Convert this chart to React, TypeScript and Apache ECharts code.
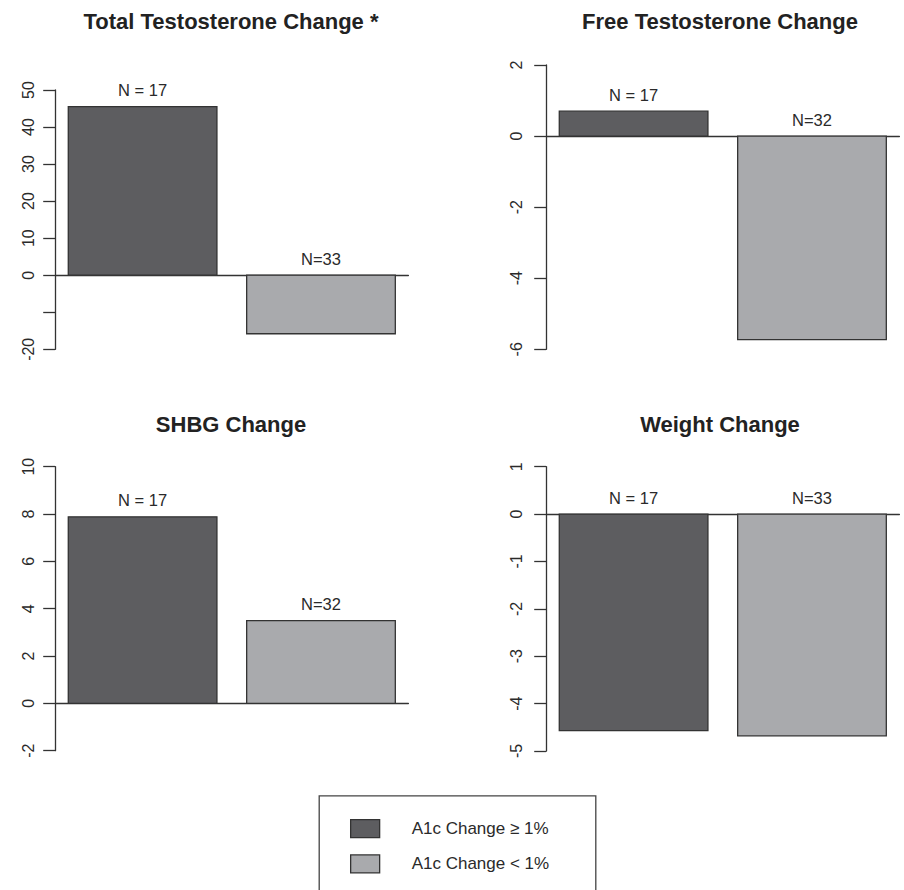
import React, { useEffect, useRef } from "react";
import * as echarts from "echarts";

// Panel titles
const titles = [
  "Total Testosterone Change *",
  "Free Testosterone Change",
  "SHBG Change",
  "Weight Change",
];

// Groups (legend entries)
const groupNames = ["A1c Change \u2265 1%", "A1c Change < 1%"];

// Mean change per panel for each group
const highA1cValues = [45.5, 0.7, 7.88, -4.57];
const lowA1cValues = [-15.8, -5.73, 3.5, -4.68];

// Sample-size annotations
const highA1cN = ["N = 17", "N = 17", "N = 17", "N = 17"];
const lowA1cN = ["N=33", "N=32", "N=32", "N=33"];

// Y-axis tick range per panel
const yMin = [-20, -6, -2, -5];
const yMax = [50, 2, 10, 1];
const yStep = [10, 2, 2, 1];

const FONT = '"Liberation Sans", Arial, Helvetica, sans-serif';
const INK = "#2a2a2a";
const LINE = "#333333";
const groupColors = ["#5d5d60", "#a9aaad"];

// barplot geometry in user units: width 1, space 0.2
const BAR_W = 1;
const BAR_SPACE = 0.2;
const X_MIN = 0.112;
const X_MAX = 2.488;

// panel placement (px)
const grids = [
  { left: 55.2, top: 90, width: 353.2, height: 259.3 },
  { left: 546.2, top: 65, width: 353.2, height: 284.3 },
  { left: 55.2, top: 466.7, width: 353.2, height: 284 },
  { left: 546.2, top: 466.7, width: 353.2, height: 284.3 },
];
const titleCenters = [
  { x: 231, y: 10.5 },
  { x: 720, y: 10.5 },
  { x: 231, y: 413 },
  { x: 720, y: 413 },
];
const labelMargins = [18.5, 21.5, 18.5, 21.5];

function barRenderer(label: string) {
  return (params: any, api: any) => {
    const g = api.value(0);
    const v = api.value(1);
    const x0 = BAR_SPACE + g * (BAR_W + BAR_SPACE);
    const x1 = x0 + BAR_W;
    const pV = api.coord([x0, v]);
    const p0 = api.coord([x1, 0]);
    const top = Math.min(pV[1], p0[1]);
    const h = Math.abs(pV[1] - p0[1]);
    const labelAnchor = api.coord([x0 + BAR_W / 2, Math.max(v, 0)]);
    return {
      type: "group",
      children: [
        {
          type: "rect",
          shape: { x: pV[0], y: top, width: p0[0] - pV[0], height: h },
          style: {
            fill: groupColors[g],
            stroke: LINE,
            lineWidth: 1.3,
          },
        },
        {
          type: "text",
          x: labelAnchor[0],
          y: labelAnchor[1] - 16.5,
          style: {
            text: label,
            fill: INK,
            fontSize: 16.5,
            fontFamily: FONT,
            align: "center",
            verticalAlign: "middle",
            textAlign: "center",
            textVerticalAlign: "middle",
          },
        },
      ],
    };
  };
}

export default function App() {
  const ref = useRef<HTMLDivElement>(null);

  useEffect(() => {
    if (!ref.current) return;
    const chart = echarts.init(ref.current, undefined, { renderer: "svg" });

    const xAxes = grids.map((_, i) => ({
      type: "value",
      gridIndex: i,
      min: X_MIN,
      max: X_MAX,
      axisLine: { show: true, onZero: true, lineStyle: { color: LINE, width: 1.3 } },
      axisTick: { show: false },
      axisLabel: { show: false },
      splitLine: { show: false },
    }));

    const yAxes = grids.map((_, i) => ({
      type: "value",
      gridIndex: i,
      min: yMin[i],
      max: yMax[i],
      interval: yStep[i],
      axisLine: { show: true, lineStyle: { color: LINE, width: 1.3 } },
      axisTick: { show: true, length: 12, lineStyle: { color: LINE, width: 1.3 } },
      axisLabel: {
        rotate: 90,
        margin: labelMargins[i],
        color: INK,
        fontSize: 16,
        fontFamily: FONT,
        formatter: (val: number) => (i === 0 && val === -10 ? "" : String(val)),
      },
      splitLine: { show: false },
    }));

    const series: any[] = [];
    grids.forEach((_, i) => {
      series.push({
        type: "custom",
        name: groupNames[0],
        xAxisIndex: i,
        yAxisIndex: i,
        itemStyle: { color: groupColors[0] },
        renderItem: barRenderer(highA1cN[i]),
        data: [[0, highA1cValues[i]]],
      });
      series.push({
        type: "custom",
        name: groupNames[1],
        xAxisIndex: i,
        yAxisIndex: i,
        itemStyle: { color: groupColors[1] },
        renderItem: barRenderer(lowA1cN[i]),
        data: [[1, lowA1cValues[i]]],
      });
    });

    chart.setOption({
      animation: false,
      backgroundColor: "#ffffff",
      title: titles.map((t, i) => ({
        text: t,
        left: titleCenters[i].x,
        top: titleCenters[i].y,
        textAlign: "center",
        padding: 0,
        textStyle: {
          fontSize: 22,
          fontWeight: "bold",
          fontFamily: FONT,
          color: "#222222",
        },
      })),
      grid: grids.map((g) => ({ ...g, containLabel: false })),
      xAxis: xAxes,
      yAxis: yAxes,
      legend: {
        left: 350,
        top: 819,
        orient: "vertical",
        icon: "rect",
        itemWidth: 29,
        itemHeight: 18,
        itemGap: 16,
        padding: 0,
        selectedMode: false,
        data: groupNames.map((n, k) => ({
          name: n,
          itemStyle: { color: groupColors[k], borderColor: LINE, borderWidth: 1.3 },
        })),
        textStyle: {
          color: INK,
          fontSize: 17,
          fontFamily: FONT,
          lineHeight: 18,
          padding: [0, 0, 0, 27],
        },
      },
      graphic: [
        {
          type: "rect",
          left: 316.7,
          top: 793.3,
          shape: { width: 276.6, height: 120 },
          style: { fill: "none", stroke: "#444444", lineWidth: 1.3 },
          silent: true,
        },
      ],
      series,
    });

    return () => chart.dispose();
  }, []);

  return (
    <div
      ref={ref}
      style={{ position: "fixed", left: 0, top: 0, width: 904, height: 890 }}
    />
  );
}
